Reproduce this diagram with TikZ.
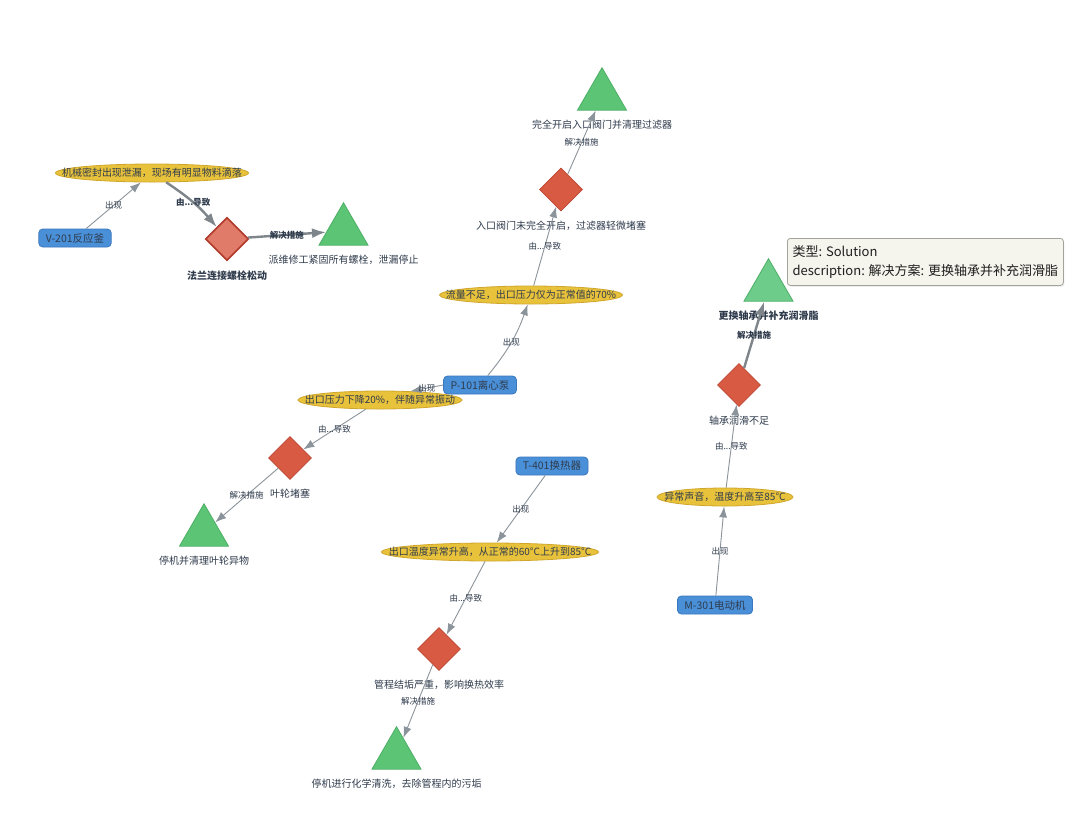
\documentclass[tikz,border=0pt]{standalone}
\usepackage{fontspec}
\setmainfont{Noto Sans CJK SC}
\usepackage{tikz}
\usetikzlibrary{arrows.meta,positioning,shapes.geometric,shadows}
\definecolor{devbg}{HTML}{4A90D9}
\definecolor{devline}{HTML}{3A77BD}
\definecolor{symbg}{HTML}{E9C23B}
\definecolor{symline}{HTML}{CFA62C}
\definecolor{causebg}{HTML}{D95A42}
\definecolor{causeline}{HTML}{BC4631}
\definecolor{causehot}{HTML}{E07A69}
\definecolor{causehotline}{HTML}{B0392A}
\definecolor{fixbg}{HTML}{5BC475}
\definecolor{fixline}{HTML}{4DAF66}
\definecolor{fixhot}{HTML}{6ECC8B}
\definecolor{edgec}{HTML}{8C949B}
\definecolor{edgehot}{HTML}{7E858B}
\definecolor{txt}{HTML}{2F3B4C}
\definecolor{tipbg}{HTML}{F5F4ED}
\definecolor{tipline}{HTML}{A3A39B}
\tikzset{
  devbox/.style={draw=devline, fill=devbg, rounded corners=4pt, line width=0.8pt, minimum height=18pt, inner xsep=7pt, inner ysep=0pt, font=\fontsize{10.5}{12}\selectfont, text=txt},
  symell/.style={ellipse, draw=symline, fill=symbg, line width=0.8pt, inner sep=0pt, minimum height=18pt},
  symtxt/.style={font=\fontsize{10}{12}\selectfont, text=txt, inner sep=0pt},
  causedia/.style={diamond, draw=causeline, fill=causebg, line width=0.8pt, minimum size=43pt, inner sep=0pt},
  causedhot/.style={fill=causehot, draw=causehotline, line width=1.6pt},
  fixtri/.style={regular polygon, regular polygon sides=3, draw=fixline, fill=fixbg, line width=0.8pt, minimum size=56.6pt, inner sep=0pt},
  nlbl/.style={font=\fontsize{10}{12}\selectfont, text=txt, inner sep=0pt},
  nlblhot/.style={font=\fontsize{10}{12}\selectfont\bfseries, text=txt, inner sep=0pt},
  elbl/.style={font=\fontsize{8.5}{10}\selectfont, text=txt, inner sep=1pt},
  elblhot/.style={font=\fontsize{8.5}{10}\selectfont\bfseries, text=txt, inner sep=1pt},
  rel/.style={draw=edgec, line width=0.9pt, -{Latex[length=11pt,width=8pt]}},
  relhot/.style={draw=edgehot, line width=2.4pt, -{Latex[length=14pt,width=10pt]}},
  tipbox/.style={draw=tipline, fill=tipbg, rounded corners=3pt, line width=0.8pt, align=left, inner xsep=4pt, inner ysep=4pt, font=\fontsize{13}{19}\selectfont, text=black!88, drop shadow={opacity=0.12, shadow xshift=1pt, shadow yshift=-1.5pt}}
}

\begin{document}
\begin{tikzpicture}[x=1pt,y=-1pt]

  \fill[white] (0,0) rectangle (1080,815);
  \useasboundingbox (0,0) rectangle (1080,815);

  % V-201
  \node[devbox] (v201) at (75,238) {V-201反应釜};
  \node[symell, minimum width=193pt, label={[symtxt]center:机械密封出现泄漏，现场有明显物料滴落}] (leak) at (152,173) {};
  \node[causedia, causedhot] (bolt) at (227,239) {};
  \node[nlblhot, below=9pt of bolt] (boltt) {法兰连接螺栓松动};
  \node[fixtri] (tighten) at (343.5,231) {};
  \node[nlbl, below=9pt of tighten.south] (tightent) {派维修工紧固所有螺栓，泄漏停止};

  % P-101
  \node[devbox] (p101) at (480,385) {P-101离心泵};
  \node[symell, minimum width=183pt, label={[symtxt]center:流量不足，出口压力仅为正常值的70\%}] (flow) at (531,295) {};
  \node[causedia] (valve) at (561,189.5) {};
  \node[nlbl, below=9pt of valve] (valvet) {入口阀门未完全开启，过滤器轻微堵塞};
  \node[fixtri] (openv) at (602,96) {};
  \node[nlbl, below=9pt of openv.south] (openvt) {完全开启入口阀门并清理过滤器};

  \node[symell, minimum width=164pt, label={[symtxt]center:出口压力下降20\%，伴随异常振动}] (press) at (380,400) {};
  \node[causedia] (impel) at (290,458) {};
  \node[nlbl, below=9pt of impel] (impelt) {叶轮堵塞};
  \node[fixtri] (cleani) at (204,532) {};
  \node[nlbl, below=9pt of cleani.south] (cleanit) {停机并清理叶轮异物};

  % T-401
  \node[devbox] (t401) at (552,466) {T-401换热器};
  \node[symell, minimum width=217pt, label={[symtxt]center:出口温度异常升高，从正常的60°C上升到85°C}] (temp) at (490,552) {};
  \node[causedia] (scale) at (439,649) {};
  \node[nlbl, below=9pt of scale] (scalet) {管程结垢严重，影响换热效率};
  \node[fixtri] (chem) at (396.5,755) {};
  \node[nlbl, below=9pt of chem.south] (chemt) {停机进行化学清洗，去除管程内的污垢};

  % M-301
  \node[devbox] (m301) at (715,605) {M-301电动机};
  \node[symell, minimum width=136pt, label={[symtxt]center:异常声音，温度升高至85°C}] (noise) at (725,497) {};
  \node[causedia] (lube) at (739,385) {};
  \node[nlbl, below=9pt of lube] (lubet) {轴承润滑不足};
  \node[fixtri, fill=fixhot] (bearing) at (768.5,287) {};
  \node[nlblhot, below=9pt of bearing.south] (bearingt) {更换轴承并补充润滑脂};

  % tooltip
  \node[tipbox, anchor=north west, minimum width=276pt, minimum height=47pt] (tip) at (787,238) {类型: Solution\\description: 解决方案: 更换轴承并补充润滑脂};

  % edges
  \draw[rel] (v201) -- node[elbl] {出现} (leak);
  \draw[relhot] (leak) to[bend left=8] node[elblhot] {由...导致} (bolt);
  \draw[relhot] (bolt) -- node[elblhot] {解决措施} (tighten);

  \draw[rel] (p101) to[bend right=10] node[elbl] {出现} (flow);
  \draw[rel] (flow) -- node[elbl] {由...导致} (valve);
  \draw[rel] (valve) -- node[elbl] {解决措施} (openv);
  \draw[rel] (p101.west) -- node[elbl] {出现} (press.16);
  \draw[rel] (press) -- node[elbl] {由...导致} (impel);
  \draw[rel] (impel) -- node[elbl] {解决措施} (cleani);

  \draw[rel] (t401) -- node[elbl] {出现} (temp);
  \draw[rel] (temp) -- node[elbl] {由...导致} (scale);
  \draw[rel] (scale) -- node[elbl] {解决措施} (chem);

  \draw[rel] (m301) -- node[elbl] {出现} (noise);
  \draw[rel] (noise) -- node[elbl] {由...导致} (lube);
  \draw[relhot] (lube) -- node[elblhot] {解决措施} (bearing);

\end{tikzpicture}
\end{document}
